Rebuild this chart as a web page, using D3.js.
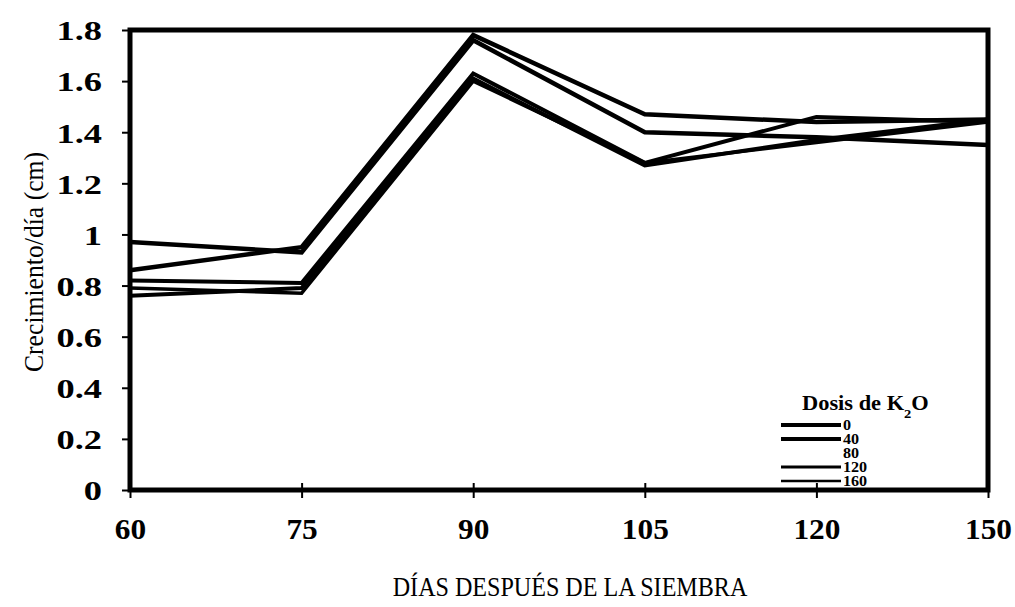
<!DOCTYPE html>
<html>
<head>
<meta charset="utf-8">
<script src="https://cdn.jsdelivr.net/npm/d3@7"></script>
<style>
    body { margin: 0; background: #fff; }
    text { font-family: "Liberation Serif", "Times New Roman", serif; fill: #000; }
</style>
</head>
<body>
<div id="chart"></div>
<script>
// data
const days = ['60', '75', '90', '105', '120', '150'];
const doses = ['0', '40', '80', '120', '160'];
const yTicks = [0, 0.2, 0.4, 0.6, 0.8, 1, 1.2, 1.4, 1.6, 1.8];

const dose0 = [0.86, 0.95, 1.78, 1.47, 1.44, 1.45];
const dose40 = [0.97, 0.93, 1.76, 1.40, 1.38, 1.35];
const dose80 = [0.82, 0.81, 1.63, 1.28, 1.46, 1.44];
const dose120 = [0.76, 0.79, 1.61, 1.27, 1.37, 1.45];
const dose160 = [0.79, 0.77, 1.60, 1.28, 1.36, 1.44];

const series = [dose0, dose40, dose80, dose120, dose160];
const lineWidths = [4.5, 4.5, 4, 4, 3.5];
const legendWidths = [4, 4, 0, 3, 2.5];
const legendStroke = ['#000', '#000', '#fff', '#000', '#000'];

const width = 1015, height = 607;
const margin = {top: 30, right: 27, bottom: 117, left: 130};

const svg = d3.select('#chart').append('svg')
    .attr('width', width)
    .attr('height', height);

const g = svg.append('g').attr('transform', 'translate(' + margin.left + ',' + margin.top + ')');
const w = width - margin.left - margin.right;
const h = height - margin.top - margin.bottom;

const x = d3.scalePoint().domain(days).range([0, w]).padding(0);
const y = d3.scaleLinear().domain([0, 1.8]).range([h, 0]);

// widen the glyphs a bit, the scan is stretched sideways
function stretch(sel, k) {
    sel.each(function () {
        const len = this.getComputedTextLength();
        d3.select(this).attr('textLength', len * k).attr('lengthAdjust', 'spacingAndGlyphs');
    });
}

// y axis
const yAxis = g.append('g')
    .call(d3.axisLeft(y).tickValues(yTicks).tickSize(8).tickPadding(20).tickFormat(d => d3.format('')(+d.toFixed(1))));
yAxis.select('.domain').remove();
yAxis.selectAll('line').attr('stroke', '#000').attr('stroke-width', 2);
yAxis.selectAll('text')
    .style('font-size', '28px')
    .style('font-weight', 'bold')
    .attr('dy', '0.35em')
    .call(stretch, 1.3);

// x axis
const xAxis = g.append('g')
    .attr('transform', 'translate(0,' + h + ')')
    .call(d3.axisBottom(x).tickSize(8).tickPadding(20));
xAxis.select('.domain').remove();
xAxis.selectAll('line').attr('stroke', '#000').attr('stroke-width', 2).attr('y1', -7);
xAxis.selectAll('text')
    .style('font-size', '29px')
    .style('font-weight', 'bold')
    .attr('dy', '0.71em')
    .call(stretch, 1.08);

// frame
g.append('rect')
    .attr('x', 0).attr('y', 0)
    .attr('width', w).attr('height', h)
    .attr('fill', 'none')
    .attr('stroke', '#000')
    .attr('stroke-width', 5);

// lines
const line = d3.line()
    .x((d, i) => x(days[i]))
    .y(d => y(d));

g.selectAll('.series')
    .data(series).enter()
    .append('path')
    .attr('class', 'series')
    .attr('d', d => line(d))
    .attr('fill', 'none')
    .attr('stroke', '#000')
    .attr('stroke-linejoin', 'miter')
    .attr('stroke-width', (d, i) => lineWidths[i]);

// legend
const legend = g.append('g').attr('transform', 'translate(651,380)');
legend.append('text')
    .attr('x', 21).attr('y', 0)
    .style('font-size', '20px')
    .style('font-weight', 'bold')
    .html('Dosis de K<tspan baseline-shift="sub" font-size="13px">2</tspan>O')
    .call(stretch, 1.12);

const items = legend.selectAll('.item')
    .data(doses).enter()
    .append('g')
    .attr('class', 'item')
    .attr('transform', (d, i) => 'translate(0,' + (15 + i * 14) + ')');
items.append('line')
    .attr('x1', 0).attr('x2', 60)
    .attr('stroke', (d, i) => legendStroke[i])
    .attr('stroke-width', (d, i) => legendWidths[i]);
items.append('text')
    .attr('x', 62).attr('dy', '0.35em')
    .style('font-size', '14px')
    .style('font-weight', 'bold')
    .text(d => d)
    .call(stretch, 1.15);

// axis titles
svg.append('text')
    .attr('transform', 'translate(34,262) rotate(-90)')
    .attr('text-anchor', 'middle')
    .attr('dy', '0.35em')
    .style('font-size', '27px')
    .text('Crecimiento/día (cm)')
    .call(stretch, 0.95);

svg.append('text')
    .attr('x', 570)
    .attr('y', 596)
    .attr('text-anchor', 'middle')
    .style('font-size', '28px')
    .text('DÍAS DESPUÉS DE LA SIEMBRA')
    .call(stretch, 0.86);
</script>
</body>
</html>
